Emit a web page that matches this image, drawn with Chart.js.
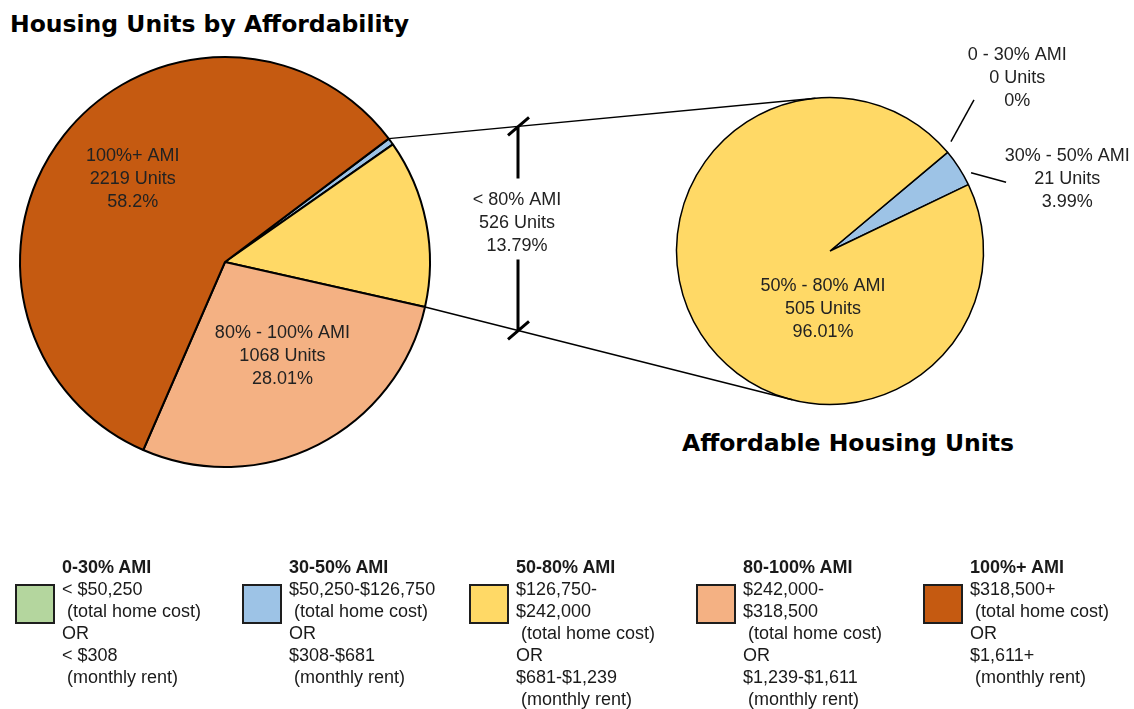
<!DOCTYPE html>
<html>
<head>
<meta charset="utf-8">
<script src="https://cdn.jsdelivr.net/npm/chart.js@4.4.1/dist/chart.umd.min.js"></script>
<style>
  body { margin: 0; background: #fff; }
  #page { position: relative; width: 1134px; height: 709px; overflow: hidden; font-family: "Liberation Sans", Arial, sans-serif; }
  #page canvas { position: absolute; }
  .title { position: absolute; font-family: "DejaVu Sans", sans-serif; font-weight: bold; font-size: 23.5px; line-height: 1; color: #000; white-space: nowrap; }
  .legend-item { position: absolute; top: 556px; }
  .swatch { position: absolute; left: 0; top: 28px; width: 36px; height: 36px; border: 2px solid #1e1e1e; }
  .legend-text { position: absolute; left: 47px; top: 0; font-size: 18px; line-height: 22px; color: #1a1a1a; white-space: pre; }
  .legend-text b { display: block; }
</style>
</head>
<body>
<div id="page">
  <div class="title" style="left:10px; top:13px;">Housing Units by Affordability</div>
  <div class="title" style="left:682px; top:432px;">Affordable Housing Units</div>
  <canvas id="allChart" width="440" height="440" style="left:5px; top:42px;"></canvas>
  <canvas id="affordChart" width="320" height="320" style="left:670px; top:91px;"></canvas>
  <canvas id="overlay" width="1134" height="709" style="left:0; top:0;"></canvas>
  <div id="legend"></div>
</div>
<script>
// all housing units by affordability band
const sliceNames = ["0 - 30% AMI", "30% - 50% AMI", "50% - 80% AMI", "80% - 100% AMI", "100%+ AMI"];
const units = [0, 21, 505, 1068, 2219];
const shareOfAll = ["0%", "0.55%", "13.24%", "28.01%", "58.2%"];
const sliceColors = ["#b4d69e", "#9dc3e6", "#ffd966", "#f4b183", "#c55a11"];

// breakdown of the affordable (< 80% AMI) units
const affordableUnits = [0, 21, 505];
const shareOfAffordable = ["0%", "3.99%", "96.01%"];
const affordableSummary = ["< 80% AMI", "526 Units", "13.79%"];

// legend
const legendHeads = ["0-30% AMI", "30-50% AMI", "50-80% AMI", "80-100% AMI", "100%+ AMI"];
const legendLines = [
  ["< $50,250", " (total home cost)", "OR", "< $308", " (monthly rent)"],
  ["$50,250-$126,750", " (total home cost)", "OR", "$308-$681", " (monthly rent)"],
  ["$126,750-", "$242,000", " (total home cost)", "OR", "$681-$1,239", " (monthly rent)"],
  ["$242,000-", "$318,500", " (total home cost)", "OR", "$1,239-$1,611", " (monthly rent)"],
  ["$318,500+", " (total home cost)", "OR", "$1,611+", " (monthly rent)"]
];

// label placement, in pie radii from the pie centre
const allLabelPos = { 3: [0.28, 0.457], 4: [-0.45, -0.405] };
const affordLabelPos = { 0: [1.22, -1.13], 1: [1.545, -0.47], 2: [-0.046, 0.375] };
const affordLeaders = { 0: [[0.788, -0.712], [0.938, -0.984]], 1: [[0.919, -0.51], [1.147, -0.448]] };
const bracketX = 518;

const legendEl = document.getElementById("legend");
legendHeads.forEach((head, i) => {
  const item = document.createElement("div");
  item.className = "legend-item";
  item.style.left = (15 + i * 227) + "px";
  item.innerHTML = '<div class="swatch" style="background:' + sliceColors[i] + '"></div>' +
    '<div class="legend-text"><b>' + head + '</b>' + legendLines[i].join("\n") + '</div>';
  legendEl.appendChild(item);
});

function pieOptions(rotation, radius) {
  return {
    responsive: false,
    animation: false,
    rotation: rotation,
    radius: radius,
    layout: { padding: 0 },
    plugins: { legend: { display: false }, tooltip: { enabled: false } }
  };
}

const allChart = new Chart(document.getElementById("allChart"), {
  type: "pie",
  data: {
    labels: sliceNames,
    datasets: [{ data: units, backgroundColor: sliceColors, borderColor: "#000", borderWidth: 2 }]
  },
  options: pieOptions(53, 205)
});

const affordChart = new Chart(document.getElementById("affordChart"), {
  type: "pie",
  data: {
    labels: sliceNames.slice(0, 3),
    datasets: [{ data: affordableUnits, backgroundColor: sliceColors.slice(0, 3), borderColor: "#000", borderWidth: 1.5 }]
  },
  options: pieOptions(50, 153.5)
});

function arcInfo(chart, i) {
  const a = chart.getDatasetMeta(0).data[i];
  const c = chart.canvas;
  return { x: a.x + c.offsetLeft, y: a.y + c.offsetTop, r: a.outerRadius, start: a.startAngle, end: a.endAngle };
}

function tangentPoint(px, py, cx, cy, r, upper) {
  const d = Math.hypot(px - cx, py - cy);
  const base = Math.atan2(py - cy, px - cx);
  const off = Math.acos(r / d);
  const t1 = base + off, t2 = base - off;
  const p1 = [cx + r * Math.cos(t1), cy + r * Math.sin(t1)];
  const p2 = [cx + r * Math.cos(t2), cy + r * Math.sin(t2)];
  if (upper) return p1[1] < p2[1] ? p1 : p2;
  return p1[1] > p2[1] ? p1 : p2;
}

function drawBlock(ctx, lines, x, y) {
  const gap = 23;
  const top = y - gap * (lines.length - 1) / 2;
  lines.forEach((t, k) => ctx.fillText(t, x, top + k * gap));
}

const ctx = document.getElementById("overlay").getContext("2d");
ctx.strokeStyle = "#000";
ctx.lineCap = "butt";

// connectors from the < 80% AMI wedge to the second pie
const first = arcInfo(allChart, 0);
const third = arcInfo(allChart, 2);
const right = arcInfo(affordChart, 0);
const topA = [first.x + first.r * Math.cos(first.start), first.y + first.r * Math.sin(first.start)];
const botA = [third.x + third.r * Math.cos(third.end), third.y + third.r * Math.sin(third.end)];
const topB = tangentPoint(topA[0], topA[1], right.x, right.y, right.r, true);
const botB = tangentPoint(botA[0], botA[1], right.x, right.y, right.r, false);
ctx.lineWidth = 1.5;
ctx.beginPath();
ctx.moveTo(topA[0], topA[1]); ctx.lineTo(topB[0], topB[1]);
ctx.moveTo(botA[0], botA[1]); ctx.lineTo(botB[0], botB[1]);
ctx.stroke();

// bracket
const yAt = (a, b, x) => a[1] + (b[1] - a[1]) * (x - a[0]) / (b[0] - a[0]);
const bTop = yAt(topA, topB, bracketX);
const bBot = yAt(botA, botB, bracketX);
const mid = (bTop + bBot) / 2;
ctx.lineWidth = 3;
ctx.beginPath();
ctx.moveTo(bracketX, bTop); ctx.lineTo(bracketX, mid - 50);
ctx.moveTo(bracketX, mid + 31); ctx.lineTo(bracketX, bBot);
[bTop, bBot].forEach(y => {
  ctx.moveTo(bracketX - 10, y + 9); ctx.lineTo(bracketX + 11, y - 9);
});
ctx.stroke();

ctx.font = '18px "Liberation Sans", Arial, sans-serif';
ctx.fillStyle = "#222";
ctx.textAlign = "center";
ctx.textBaseline = "middle";
drawBlock(ctx, affordableSummary, bracketX - 1, mid - 5);

// labels on the first pie
Object.keys(allLabelPos).forEach(k => {
  const a = arcInfo(allChart, +k);
  const [fx, fy] = allLabelPos[k];
  drawBlock(ctx, [sliceNames[k], units[k] + " Units", shareOfAll[k]], a.x + fx * a.r, a.y + fy * a.r);
});

// labels and leaders on the second pie
ctx.lineWidth = 1.5;
Object.keys(affordLeaders).forEach(k => {
  const [s, e] = affordLeaders[k];
  ctx.beginPath();
  ctx.moveTo(right.x + s[0] * right.r, right.y + s[1] * right.r);
  ctx.lineTo(right.x + e[0] * right.r, right.y + e[1] * right.r);
  ctx.stroke();
});
Object.keys(affordLabelPos).forEach(k => {
  const [fx, fy] = affordLabelPos[k];
  drawBlock(ctx, [sliceNames[k], affordableUnits[k] + " Units", shareOfAffordable[k]], right.x + fx * right.r, right.y + fy * right.r);
});
</script>
</body>
</html>
